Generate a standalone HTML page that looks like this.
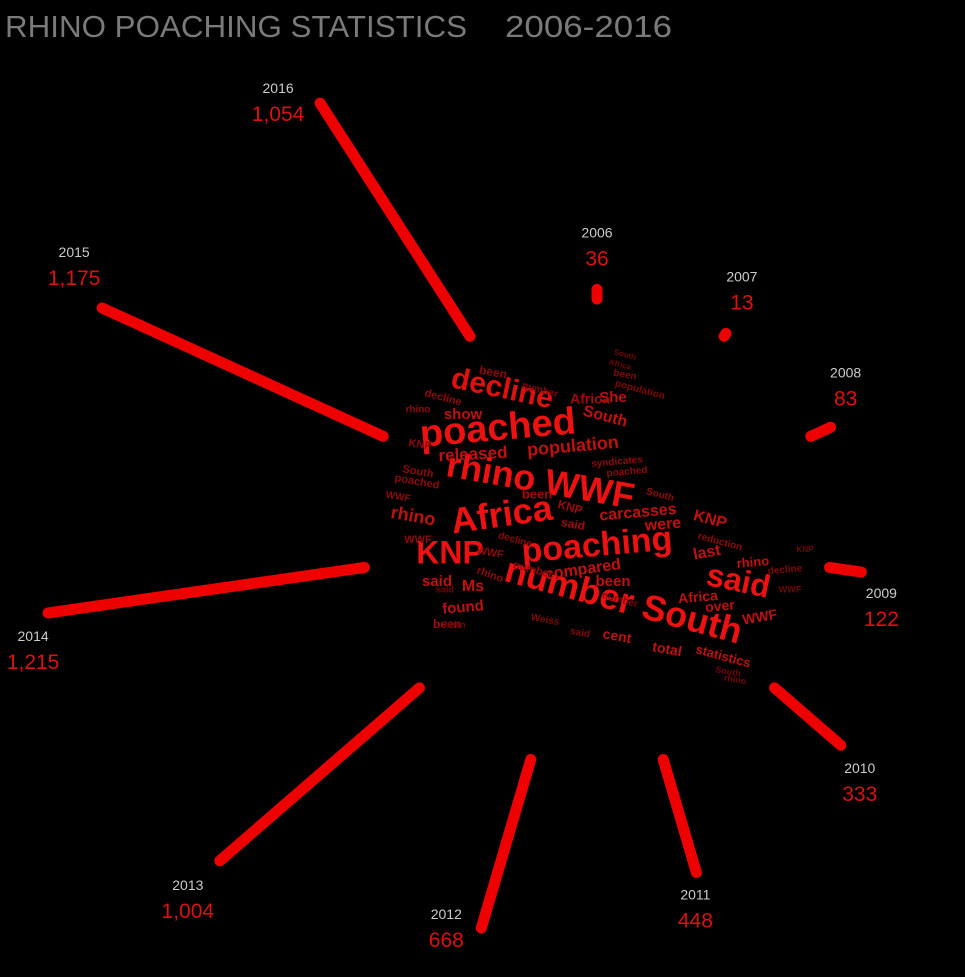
<!DOCTYPE html>
<html><head><meta charset="utf-8"><style>
html,body{margin:0;padding:0;background:#000;width:965px;height:977px;overflow:hidden}
svg{display:block}
.t{font-family:"Liberation Sans",sans-serif}
</style></head><body>
<svg id="chart" width="965" height="977" viewBox="0 0 965 977">
<text class="t" x="5" y="37" font-size="31" fill="#7a7a7a" textLength="462" lengthAdjust="spacingAndGlyphs">RHINO POACHING STATISTICS</text>
<text class="t" x="505" y="37" font-size="31" fill="#7a7a7a" textLength="167" lengthAdjust="spacingAndGlyphs">2006-2016</text>
<g id="cloud"></g>
<g id="rays"></g>
</svg>
<script>
const years=["2006","2007","2008","2009","2010","2011","2012","2013","2014","2015","2016"];
const values=[36,13,83,122,333,448,668,1004,1215,1175,1054];
const valueLabels=["36","13","83","122","333","448","668","1,004","1,215","1,175","1,054"];
// label placement relative to bar end (layout only, not data)
const labelShiftX=[0,16,15,20,19,-1,-35,-32,-15,-28,-42];
const labelShiftY=[-44,-44,-42,34,36,35,-1,37,36,-43,-2];
const cx=597,cy=534,r0=235,scale=0.263;
const NS="http://www.w3.org/2000/svg";
const rays=document.getElementById('rays');
function ang(i){return (-90+i*360/years.length)*Math.PI/180;}
function rad(v){return r0+v*scale;}
years.forEach((y,i)=>{
  const a=ang(i),r1=rad(values[i]);
  const ex=cx+r1*Math.cos(a),ey=cy+r1*Math.sin(a);
  const l=document.createElementNS(NS,'line');
  l.setAttribute('x1',cx+r0*Math.cos(a));l.setAttribute('y1',cy+r0*Math.sin(a));
  l.setAttribute('x2',ex);l.setAttribute('y2',ey);
  l.setAttribute('stroke','#ee0000');l.setAttribute('stroke-width','11');l.setAttribute('stroke-linecap','round');
  
  
  rays.appendChild(l);
  const lx=ex+labelShiftX[i],ly=ey+labelShiftY[i];
  const ty=document.createElementNS(NS,'text');
  ty.setAttribute('x',lx);ty.setAttribute('y',ly-8);ty.setAttribute('text-anchor','middle');
  ty.setAttribute('class','t');ty.setAttribute('font-size','14');ty.setAttribute('fill','#cccccc');
  ty.textContent=y;
  
  
  rays.appendChild(ty);
  const tv=document.createElementNS(NS,'text');
  tv.setAttribute('x',lx);tv.setAttribute('y',ly+20);tv.setAttribute('text-anchor','middle');
  tv.setAttribute('class','t');tv.setAttribute('font-size','21');tv.setAttribute('fill','#dd1111');
  tv.textContent=valueLabels[i];
  
  
  rays.appendChild(tv);
});
const words=[
["decline",502,390,30,12,"#e01010"],["poached",498,430,38,-5,"#ee1111"],["rhino WWF",540,483,36,10,"#ee1111"],
["Africa",502,517,36,-8,"#ee1111"],["poaching",597,547,34,-5,"#ee1111"],["KNP",450,555,32,0,"#ee1111"],
["number South",623,603,36,15,"#ee1111"],["said",738,583,32,12,"#ee1111"],["population",573,447,18,-5,"#c01010"],
["released",473,455,17,-3,"#c01010"],["carcasses",638,513,16,-5,"#c01010"],["compared",583,570,16,-8,"#c01010"],
["South",605,417,16,15,"#c01010"],["show",463,415,15,0,"#c01010"],["She",613,398,15,0,"#c01010"],
["were",663,525,16,-5,"#c01010"],["KNP",710,520,16,15,"#c01010"],["last",707,553,16,-10,"#c01010"],
["rhino",413,517,18,10,"#c01010"],["Ms",473,587,16,0,"#c01010"],["said",437,582,15,0,"#c01010"],
["found",463,608,15,-5,"#c01010"],["been",613,582,15,0,"#c01010"],["Africa",698,598,14,-5,"#c01010"],
["over",720,607,14,-5,"#c01010"],["WWF",760,618,14,-10,"#c01010"],["cent",617,637,14,10,"#c01010"],
["total",667,650,14,10,"#c01010"],["statistics",723,657,13,15,"#c01010"],["rhino",753,563,13,-5,"#c01010"],
["been",447,625,12,0,"#a00c0c"],["Africa",590,400,14,0,"#a00c0c"],["KNP",420,445,11,10,"#900a0a"],
["South",418,472,11,10,"#900a0a"],["poached",417,482,11,10,"#900a0a"],["WWF",398,497,10,10,"#900a0a"],
["been",537,495,13,0,"#a00c0c"],["said",573,525,12,10,"#a00c0c"],["KNP",570,508,12,15,"#a00c0c"],
["decline",443,398,11,15,"#900a0a"],["rhino",418,410,10,0,"#900a0a"],["been",493,373,12,10,"#900a0a"],
["number",540,390,10,15,"#800808"],["WWF",418,540,11,0,"#900a0a"],["number",533,570,11,15,"#900a0a"],
["rhino",490,575,11,20,"#900a0a"],["WWF",490,553,11,10,"#900a0a"],["decline",515,540,10,15,"#900a0a"],
["syndicates",617,462,10,-5,"#900a0a"],["poached",627,472,10,-5,"#900a0a"],["South",660,495,10,15,"#900a0a"],
["reduction",720,542,10,15,"#900a0a"],["decline",785,570,10,-5,"#800808"],["Weiss",545,620,10,10,"#800808"],
["said",580,633,10,10,"#800808"],["number",620,600,10,15,"#800808"],["population",640,390,10,15,"#800808"],
["been",625,375,10,10,"#800808"],["South",625,355,8,15,"#700606"],["Africa",620,365,8,15,"#700606"],
["rhino",735,680,9,10,"#700606"],["South",728,672,9,10,"#700606"],["WWF",790,590,9,0,"#700606"],
["said",445,590,9,0,"#700606"],["been",455,625,9,0,"#700606"],["KNP",805,550,8,0,"#700606"]
];
const cloud=document.getElementById('cloud');
words.forEach((w,i)=>{
  const t=document.createElementNS(NS,'text');
  t.setAttribute('x',w[1]);t.setAttribute('y',w[2]);
  t.setAttribute('text-anchor','middle');t.setAttribute('dominant-baseline','middle');
  t.setAttribute('font-family','"Liberation Sans",sans-serif');t.setAttribute('font-weight','bold');
  t.setAttribute('font-size',w[3]);t.setAttribute('fill',w[5]);
  t.setAttribute('transform','rotate('+w[4]+' '+w[1]+' '+w[2]+')');
  t.textContent=w[0];
  
  
  cloud.appendChild(t);
});
</script>
</body></html>
